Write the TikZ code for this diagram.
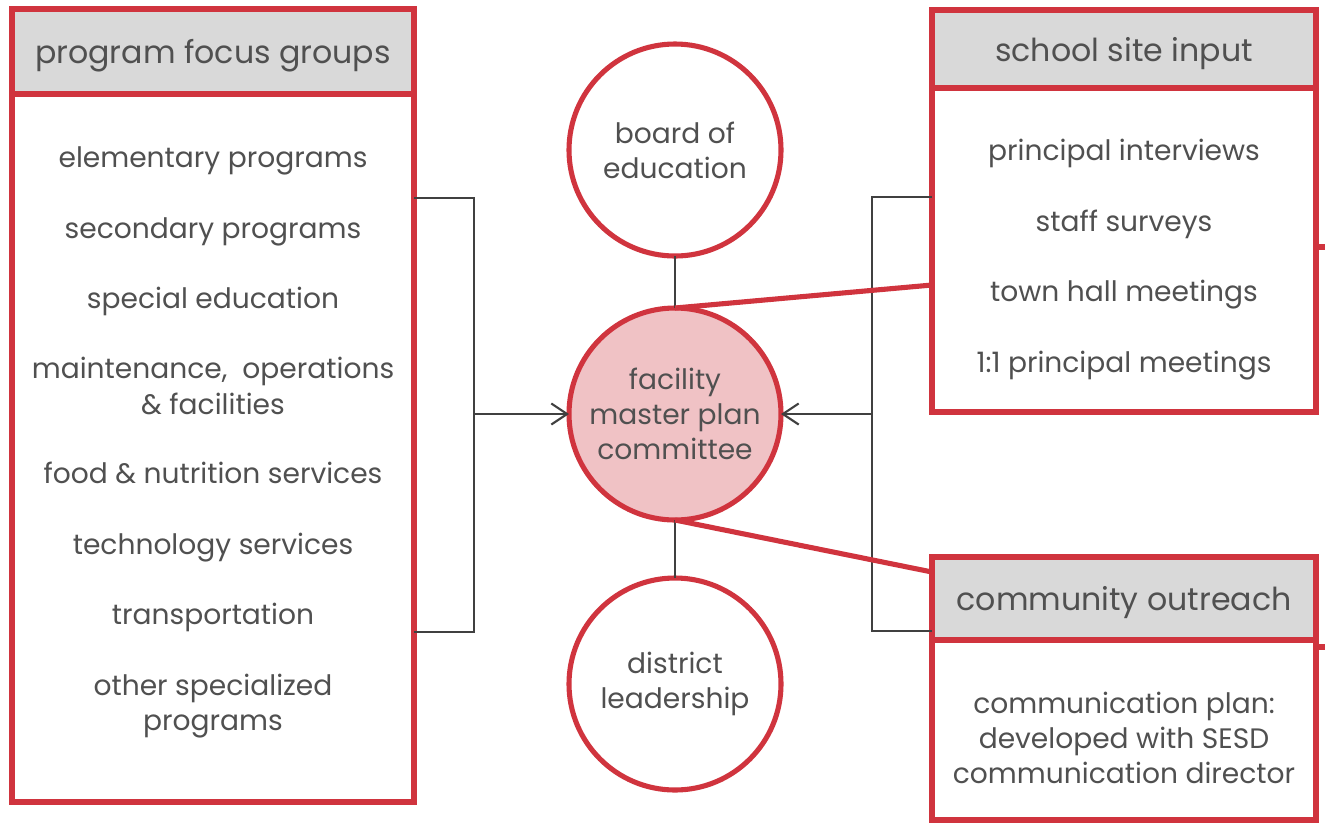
\documentclass[tikz,border=0pt]{standalone}
\usepackage{fontspec}
\setmainfont{Poppins}
\usetikzlibrary{arrows.meta}

\definecolor{boxred}{RGB}{208,52,62}
\definecolor{headgray}{RGB}{217,217,217}
\definecolor{hubpink}{RGB}{240,194,197}
\definecolor{inkgray}{RGB}{80,80,80}
\definecolor{linkgray}{RGB}{64,64,64}

\tikzset{
  headbox/.style={draw=boxred, line width=1.45pt, fill=headgray, rectangle,
    inner sep=0pt, outer sep=0pt, text=inkgray, text height=9pt, text depth=2pt,
    font=\fontsize{9}{11}\selectfont},
  bodybox/.style={draw=boxred, line width=1.45pt, fill=white, rectangle,
    inner sep=0pt, outer sep=0pt},
  item/.style={text=inkgray, font=\fontsize{8}{10}\selectfont, align=center, inner sep=0pt},
  group/.style={draw=boxred, line width=1.45pt, circle, fill=white, minimum size=2.12cm,
    inner sep=0pt, outer sep=0pt, text=inkgray, align=center, font=\fontsize{8}{10}\selectfont},
  link/.style={draw=linkgray, line width=0.6pt},
  redlink/.style={draw=boxred, line width=1.45pt},
  >={Straight Barb[length=4.5pt,width=6pt]}
}

\begin{document}
\begin{tikzpicture}
    \useasboundingbox (0,0) rectangle (13.25,-8.25);

    % Program focus groups
    \node[bodybox, minimum width=4.02cm, minimum height=7.08cm] (pfgBody) at (2.13,-4.48) {};
    \node[headbox, minimum width=4.02cm, minimum height=0.85cm] (pfgHead) at (2.13,-0.515) {program focus groups};
    \foreach \y/\t [count=\i] in {1.61/elementary programs, 2.32/secondary programs,
        3.01/special education, 3.86/{maintenance,\ \ operations\\ \& facilities},
        4.73/food \& nutrition services, 5.48/technology services,
        6.17/transportation, 7.06/{other specialized\\ programs}}
      \node[item] (pfg\i) at (2.13,-\y) {\t};

    % School site input
    \node[bodybox, minimum width=3.84cm, minimum height=3.24cm] (ssiBody) at (11.24,-2.50) {};
    \node[headbox, minimum width=3.84cm, minimum height=0.78cm] (ssiHead) at (11.24,-0.49) {school site input};
    \foreach \y/\t [count=\i] in {1.53/principal interviews, 2.24/staff surveys,
        2.95/town hall meetings, 3.66/1:1 principal meetings}
      \node[item] (ssi\i) at (11.24,-\y) {\t};

    % Community outreach
    \node[bodybox, minimum width=3.84cm, minimum height=1.80cm] (coBody) at (11.24,-7.30) {};
    \node[headbox, minimum width=3.84cm, minimum height=0.83cm] (coHead) at (11.24,-5.985) {community outreach};
    \node[item] (co1) at (11.24,-7.38) {communication plan:\\ developed with SESD\\ communication director};

    % Circles
    \node[group] (boe) at (6.75,-1.50) {board of\\ education};
    \node[group, fill=hubpink] (fmpc) at (6.75,-4.14) {facility\\ master plan\\ committee};
    \node[group] (dl) at (6.75,-6.84) {district\\ leadership};

    \draw[link] (boe) -- (fmpc);
    \draw[link] (fmpc) -- (dl);

    % Brackets
    \coordinate (lBar) at (4.74,-4.14);
    \coordinate (rBar) at (8.72,-4.14);
    \draw[link] (pfgBody.east |- 0,-1.98) -- (lBar |- 0,-1.98) -- (lBar |- 0,-6.32) -- (pfgBody.east |- 0,-6.32);
    \draw[link, ->] (lBar) -- (fmpc);
    \draw[link] (ssiBody.west |- 0,-1.97) -- (rBar |- 0,-1.97) -- (rBar |- 0,-6.31) -- (coHead.west |- 0,-6.31);
    \draw[link, ->] (rBar) -- (fmpc);

    % Red ties
    \draw[redlink] (fmpc.north) -- (ssiBody.west |- 0,-2.85);
    \draw[redlink] (fmpc.south) -- (coHead.west |- 0,-5.72);
    \coordinate (ssiOut) at (13.25,-2.47);
    \coordinate (coOut) at (13.25,-6.47);
    \draw[redlink] (ssiBody.east |- ssiOut) -- (ssiOut);
    \draw[redlink] (coBody.east |- coOut) -- (coOut);
\end{tikzpicture}
\end{document}
